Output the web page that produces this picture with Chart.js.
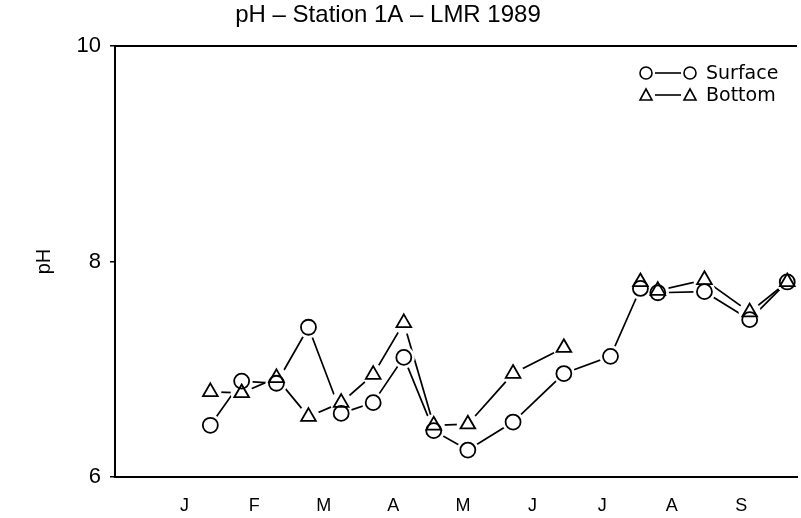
<!DOCTYPE html>
<html>
<head>
<meta charset="utf-8">
<script src="https://cdn.jsdelivr.net/npm/chart.js@4.4.0/dist/chart.umd.min.js"></script>
<style>
  html, body { margin: 0; padding: 0; background: #fff; }
  #wrap { width: 801px; height: 518px; }
</style>
</head>
<body>
<div id="wrap"><canvas id="myChart" width="801" height="518"></canvas></div>
<script>
// month letters on the x axis (J = 1 ... S = 9)
const months = ['J', 'F', 'M', 'A', 'M', 'J', 'J', 'A', 'S'];
// sampling dates as fractional month positions
const sampleMonth = [1.37, 1.82, 2.32, 2.78, 3.25, 3.71, 4.15, 4.58, 5.07, 5.72, 6.45, 7.12, 7.55, 7.80, 8.47, 9.12, 9.66];
// pH readings
const surfacePH = [6.48, 6.89, 6.87, 7.39, 6.59, 6.69, 7.11, 6.43, 6.25, 6.51, 6.96, 7.12, 7.75, 7.71, 7.72, 7.46, 7.81];
const bottomPH  = [6.79, 6.78, 6.92, 6.56, 6.69, 6.95, 7.43, 6.48, 6.49, 6.96, 7.20, null, 7.81, 7.73, 7.83, 7.53, 7.81];
const yTicks = [6, 8, 10];

const FONT = '"Liberation Sans", Arial, sans-serif';
const LEG_FONT = '"DejaVu Sans", sans-serif';

function toPoints(vals) {
    return sampleMonth.map((m, i) => ({ x: m, y: vals[i] }));
}

// line only
function lineSet(label, vals) {
    return { label, data: toPoints(vals), showLine: true, borderColor: '#000', borderWidth: 1.7,
             pointRadius: 0, spanGaps: false, tension: 0, order: 3 };
}
// white patch so the lines stop short of the markers
function haloSet(label, vals) {
    return { label, data: toPoints(vals), showLine: false, pointRadius: 11,
             pointBackgroundColor: '#fff', pointBorderColor: '#fff', pointBorderWidth: 0, order: 2 };
}
// open markers
function markerSet(label, vals, style, r) {
    return { label, data: toPoints(vals), showLine: false, pointStyle: style, pointRadius: r,
             pointBackgroundColor: 'rgba(255,255,255,0)', pointBorderColor: '#000', pointBorderWidth: 1.8, order: 1 };
}

// title, top frame line and legend
const decor = {
    id: 'decor',
    afterDraw(chart) {
        const c = chart.ctx;
        const a = chart.chartArea;
        c.save();
        c.fillStyle = '#000';
        c.strokeStyle = '#000';

        c.font = '24px ' + FONT;
        c.textAlign = 'center';
        c.textBaseline = 'middle';
        c.fillText('pH \u2013 Station 1A \u2013 LMR 1989', 388, 15);

        c.lineWidth = 2;
        c.beginPath();
        c.moveTo(a.left - 1, a.top);
        c.lineTo(a.right, a.top);
        c.stroke();

        // legend
        c.lineWidth = 1.6;
        c.font = '19px ' + LEG_FONT;
        c.textAlign = 'left';
        const rows = [{ y: 73, tri: false, text: 'Surface' }, { y: 95, tri: true, text: 'Bottom' }];
        rows.forEach(r => {
            [646, 690].forEach(x => {
                c.beginPath();
                if (r.tri) {
                    c.moveTo(x, r.y - 6); c.lineTo(x + 6, r.y + 5); c.lineTo(x - 6, r.y + 5); c.closePath();
                } else {
                    c.arc(x, r.y, 6, 0, Math.PI * 2);
                }
                c.stroke();
            });
            c.beginPath();
            c.moveTo(655, r.y); c.lineTo(681, r.y);
            c.stroke();
            c.fillText(r.text, 706, r.y + 1);
        });
        c.restore();
    }
};

let ctx = document.getElementById('myChart');

let config = {
    type: 'scatter',
    data: {
        datasets: [
            lineSet('Surface', surfacePH),
            lineSet('Bottom', bottomPH),
            haloSet('Surface', surfacePH),
            haloSet('Bottom', bottomPH),
            markerSet('Surface', surfacePH, 'circle', 7.5),
            markerSet('Bottom', bottomPH, 'triangle', 8.5)
        ]
    },
    options: {
        responsive: false,
        animation: false,
        layout: { autoPadding: false, padding: { top: 46, right: 4, left: 0, bottom: 0 } },
        plugins: { legend: { display: false }, tooltip: { enabled: false }, title: { display: false } },
        scales: {
            x: {
                type: 'linear',
                min: 0,
                max: 9.8,
                grid: { display: false },
                border: { display: true, color: '#000', width: 2 },
                afterBuildTicks(scale) {
                    scale.ticks = months.map((m, i) => ({ value: i + 1 }));
                },
                ticks: {
                    color: '#000',
                    font: { family: FONT, size: 18 },
                    padding: 10,
                    callback: (v) => months[v - 1] || ''
                },
                afterFit(scale) {
                    scale.height = 41;
                    scale.paddingLeft = 0;
                    scale.paddingRight = 0;
                }
            },
            y: {
                min: 6,
                max: 10,
                grid: { drawOnChartArea: false, color: '#000', tickLength: 5, lineWidth: 1.5 },
                border: { display: true, color: '#000', width: 2 },
                afterBuildTicks(scale) {
                    scale.ticks = yTicks.map(v => ({ value: v }));
                },
                ticks: {
                    color: '#000',
                    font: { family: FONT, size: 22 },
                    padding: 9
                },
                title: {
                    display: true,
                    text: 'pH',
                    color: '#000',
                    font: { family: FONT, size: 20 },
                    padding: { top: 32, bottom: 0 }
                },
                afterFit(scale) { scale.width = 115; }
            }
        }
    },
    plugins: [decor]
};

let myChart = new Chart(ctx, config);
</script>
</body>
</html>
